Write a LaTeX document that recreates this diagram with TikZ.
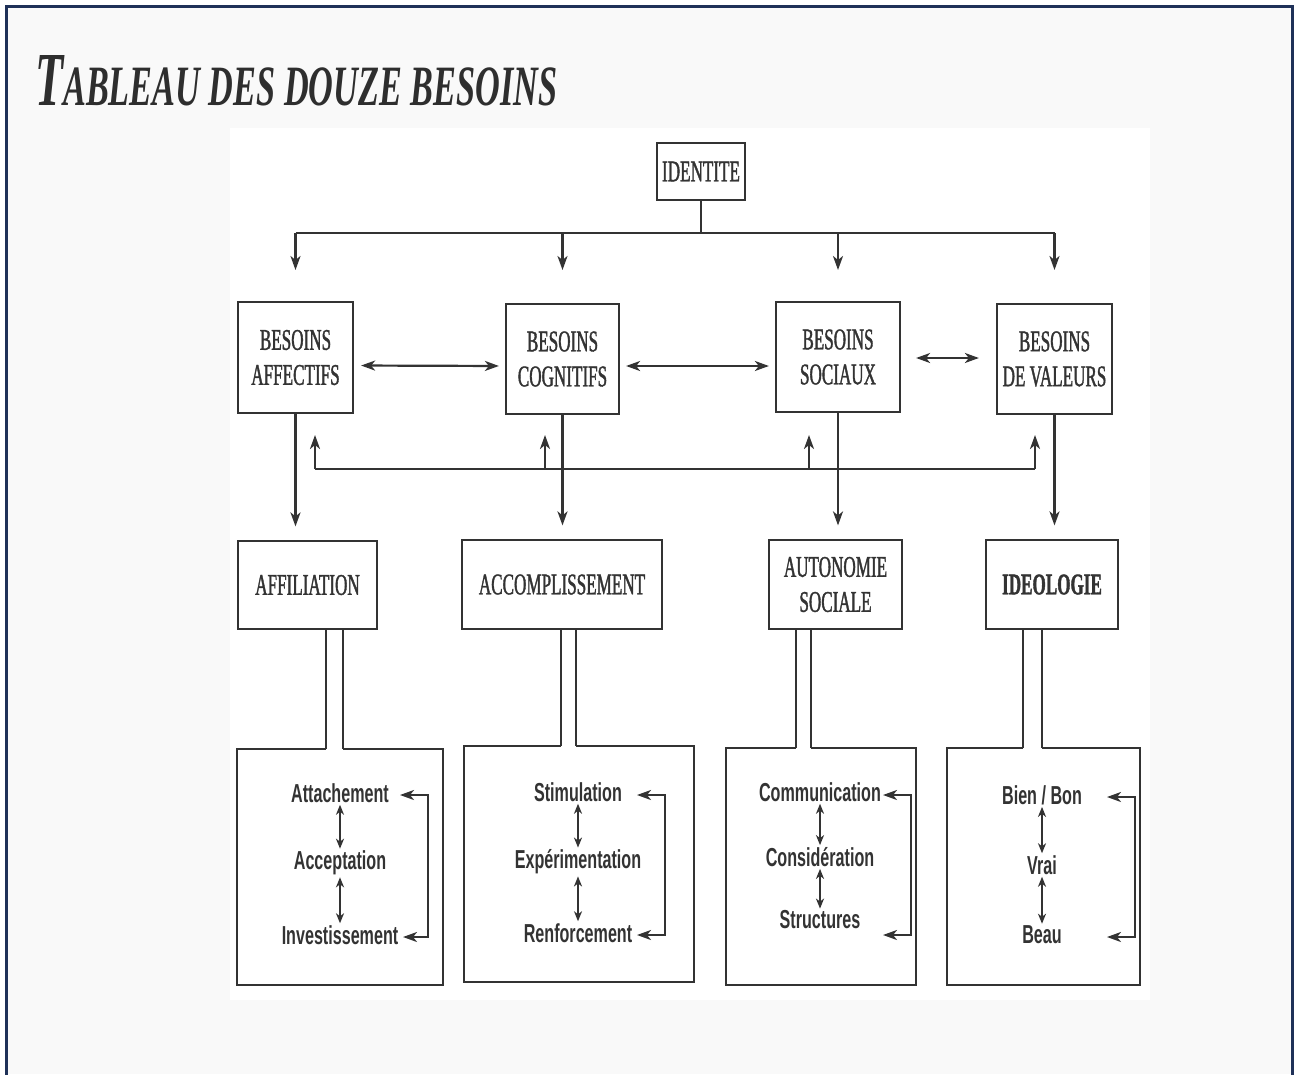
\documentclass[tikz,border=0pt]{standalone}
\usepackage{fontspec}
\setmainfont{Liberation Serif}
\newfontfamily\needfont{Liberation Serif}[FakeStretch=0.57,FakeBold=1.2]
\newfontfamily\itemfont{Liberation Sans}[FakeStretch=0.62]
\newfontfamily\titlefont{Liberation Serif}
\usetikzlibrary{
  calc,
  positioning,
  arrows.meta}
\definecolor{framec}{HTML}{1F3158}
\definecolor{pagec}{HTML}{F9F9F9}
\definecolor{inkc}{HTML}{333333}
\definecolor{titlec}{HTML}{2E2E2E}
\tikzset{
  need/.style={rectangle,draw=inkc,line width=2.2pt,inner sep=0pt,
    align=center,text=inkc,font=\needfont\fontsize{30}{35}\selectfont},
  listbox/.style={rectangle,inner sep=0pt},
  item/.style={inner sep=2pt,text=inkc,
    font=\itemfont\bfseries\fontsize{26}{30}\selectfont},
  arr/.style={draw=inkc,line width=2.2pt,-{Stealth[length=14pt,width=10pt,inset=4pt]}},
  dbl/.style={draw=inkc,line width=2.2pt,
    {Stealth[length=14pt,width=10pt,inset=4pt]}-{Stealth[length=14pt,width=10pt,inset=4pt]}},
  smalldbl/.style={draw=inkc,line width=1.8pt,
    {Stealth[length=10pt,width=8pt,inset=3pt]}-{Stealth[length=10pt,width=8pt,inset=3pt]}},
  wire/.style={draw=inkc,line width=2.2pt}
}

\begin{document}
\begin{tikzpicture}[x=1pt,y=-1pt]
  \useasboundingbox (0,0) rectangle (1296,1074);

  % Page and frame
  \fill[white] (0,0) rectangle (1296,1074);
  \fill[pagec] (6,6) rectangle (1292,1074);
  \draw[framec,line width=3pt] (6,1080) -- (6,6) -- (1292,6) -- (1292,1080);
  \fill[white] (230,128) rectangle (1150,1000);

  % Title
  \node[anchor=base west,inner sep=0pt,text=titlec] (title) at (35,105)
    {\resizebox{522pt}{50pt}{\titlefont\bfseries\itshape
      {\fontsize{75}{80}\selectfont T}{\fontsize{56}{60}\selectfont ABLEAU DES DOUZE BESOINS}}};

  % Identity
  \node[need,minimum width=88pt,minimum height=57pt] (identite) at (701,171.5) {IDENTITE};

  % Needs
  \node[need,minimum width=115pt,minimum height=111pt] (affectifs) at (295.5,357.5) {BESOINS\\AFFECTIFS};
  \node[need,minimum width=113pt,minimum height=110pt] (cognitifs) at (562.5,359) {BESOINS\\COGNITIFS};
  \node[need,minimum width=124pt,minimum height=110pt] (sociaux) at (838,357) {BESOINS\\SOCIAUX};
  \node[need,minimum width=115pt,minimum height=110pt] (valeurs) at (1054.5,359) {BESOINS\\DE VALEURS};

  % Bus from identity
  \draw[wire] (identite.south) -- (identite.south |- 0,233) coordinate (bus);
  \draw[wire] (affectifs |- bus) -- (valeurs |- bus);
  \foreach \n in {affectifs,cognitifs,sociaux,valeurs}
    \draw[arr] (\n |- bus) -- ++(0,37);

  % Links between needs
  \draw[dbl,shorten <=7pt,shorten >=6pt] ([yshift=-8pt]affectifs.east) -- ([yshift=-7pt]cognitifs.west);
  \draw[dbl,shorten <=6pt,shorten >=6pt] ([yshift=-7pt]cognitifs.east) -- ([yshift=-9pt]sociaux.west);
  \draw[dbl,shorten <=15pt,shorten >=17pt] ([yshift=-1pt]sociaux.east) -- ([yshift=1pt]valeurs.west);

  % Domains
  \node[need,minimum width=139pt,minimum height=88pt] (affiliation) at (307.5,585) {AFFILIATION};
  \node[need,minimum width=200pt,minimum height=89pt] (accomplissement) at (562,584.5) {ACCOMPLISSEMENT};
  \node[need,minimum width=133pt,minimum height=89pt] (autonomie) at (835.5,584.5) {AUTONOMIE\\SOCIALE};
  \node[need,minimum width=132pt,minimum height=89pt,font=\needfont\bfseries\fontsize{30}{35}\selectfont]
    (ideologie) at (1052,584.5) {IDEOLOGIE};

  \foreach \up/\down in {affectifs/affiliation,cognitifs/accomplissement,
                         sociaux/autonomie,valeurs/ideologie}
    \draw[arr,shorten >=13.5pt] (\up.south) -- (\up.south |- \down.north);

  % Feedback line
  \coordinate (fb1) at (315,469);
  \coordinate (fb2) at (545,469);
  \coordinate (fb3) at (809,469);
  \coordinate (fb4) at (1035,469);
  \draw[wire] (fb1) -- (fb4);
  \foreach \c in {fb1,fb2,fb3,fb4}
    \draw[arr] (\c) -- ++(0,-34);

  % Lists
  \node[listbox,minimum width=206pt,minimum height=236pt] (listaff) at (340,867) {};
  \node[listbox,minimum width=230pt,minimum height=236pt] (listacc) at (579,864) {};
  \node[listbox,minimum width=190pt,minimum height=237pt] (listaut) at (821,866.5) {};
  \node[listbox,minimum width=193pt,minimum height=237pt] (listide) at (1043.5,866.5) {};

  \foreach \up/\down/\l/\r in {affiliation/listaff/326/343,accomplissement/listacc/561/576,
                               autonomie/listaut/796/811,ideologie/listide/1023/1042} {
    \draw[wire] (\up.south -| \l,0) -- (\down.north -| \l,0);
    \draw[wire] (\up.south -| \r,0) -- (\down.north -| \r,0);
    \draw[wire] (\down.north -| \l,0) -| (\down.south west) -- (\down.south east)
      |- (\down.north -| \r,0);
  }

  % Affiliation
  \node[item] (attach) at (340,793) {Attachement};
  \node[item] (accept) at (340,863) {Acceptation};
  \node[item] (invest) at (340,935) {Investissement};
  \draw[smalldbl] (attach) -- (accept);
  \draw[smalldbl] (accept) -- (invest);
  \coordinate (r1t) at (400,795);
  \coordinate (r1b) at (403,937);
  \draw[dbl] (r1t) -- ++(28,0) |- (r1b);

  % Accomplissement
  \node[item] (stimul) at (578,792) {Stimulation};
  \node[item] (experim) at (578,862) {Expérimentation};
  \node[item] (renfor) at (578,933) {Renforcement};
  \draw[smalldbl] (stimul) -- (experim);
  \draw[smalldbl] (experim) -- (renfor);
  \coordinate (r2t) at (637,795);
  \coordinate (r2b) at (637,935);
  \draw[dbl] (r2t) -- ++(28,0) |- (r2b);

  % Autonomie sociale
  \node[item] (commun) at (820,792) {Communication};
  \node[item] (consid) at (820,857) {Considération};
  \node[item] (struct) at (820,920) {Structures};
  \draw[smalldbl] (commun) -- (consid);
  \draw[smalldbl] (consid) -- (struct);
  \coordinate (r3t) at (883,795);
  \coordinate (r3b) at (883,935);
  \draw[dbl] (r3t) -- ++(28,0) |- (r3b);

  % Ideologie
  \node[item] (bienbon) at (1042,795) {Bien / Bon};
  \node[item] (vrai) at (1042,865) {Vrai};
  \node[item] (beau) at (1042,935) {Beau};
  \draw[smalldbl] (bienbon) -- (vrai);
  \draw[smalldbl] (vrai) -- (beau);
  \coordinate (r4t) at (1107,797);
  \coordinate (r4b) at (1107,937);
  \draw[dbl] (r4t) -- ++(28,0) |- (r4b);

\end{tikzpicture}
\end{document}
